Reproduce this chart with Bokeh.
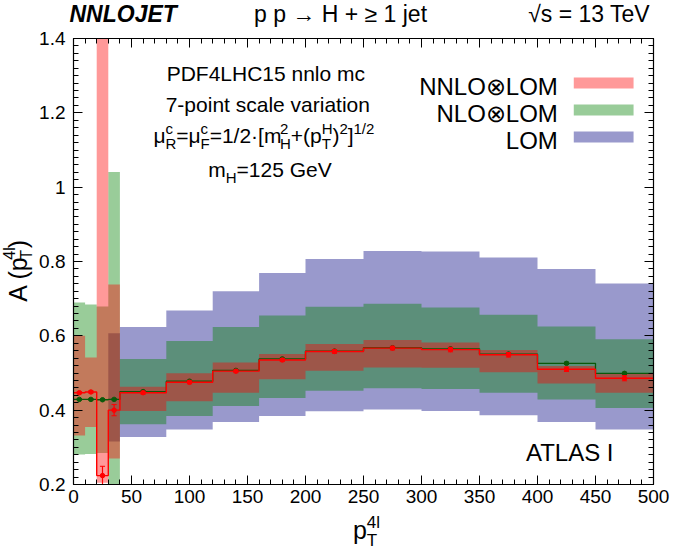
import math
from bokeh.plotting import figure
from bokeh.layouts import column, row
from bokeh.models import Range1d, FixedTicker, LinearAxis, Label, BoxAnnotation, CustomJSTickFormatter
from bokeh.embed import file_html
from bokeh.resources import INLINE

# ---------------- data ----------------
edges = [0, 10, 20, 30, 40, 80, 120, 160, 200, 250, 300, 350, 400, 450, 500]
centers = [5, 15, 25, 35, 60, 100, 140, 180, 225, 275, 325, 375, 425, 475]

nnlo_c = [0.447, 0.449, 0.224, 0.400, 0.447, 0.475, 0.505, 0.535, 0.558, 0.567, 0.563, 0.549, 0.510, 0.486]
nnlo_lo = [0.332, 0.355, 0.205, 0.270, 0.398, 0.424, 0.447, 0.483, 0.506, 0.515, 0.514, 0.502, 0.472, 0.447]
nnlo_hi = [0.600, 0.542, 1.500, 0.738, 0.463, 0.499, 0.528, 0.551, 0.578, 0.589, 0.582, 0.562, 0.519, 0.499]
nnlo_err = [0.003, 0.003, 0.025, 0.015, 0.004, 0.004, 0.004, 0.004, 0.005, 0.005, 0.006, 0.006, 0.006, 0.007]

nlo_c = [0.429, 0.429, 0.428, 0.429, 0.450, 0.478, 0.507, 0.538, 0.559, 0.568, 0.565, 0.551, 0.526, 0.499]
nlo_lo = [0.281, 0.282, 0.285, 0.180, 0.362, 0.384, 0.411, 0.433, 0.452, 0.459, 0.457, 0.447, 0.429, 0.406]
nlo_hi = [0.690, 0.684, 0.679, 1.041, 0.538, 0.586, 0.624, 0.655, 0.678, 0.686, 0.676, 0.657, 0.625, 0.591]
nlo_err = [0.002, 0.002, 0.002, 0.002, 0.002, 0.002, 0.002, 0.002, 0.002, 0.003, 0.003, 0.003, 0.003, 0.003]

lom_edges = [30, 40, 80, 120, 160, 200, 250, 300, 350, 400, 450, 500]
lom_lo = [0.316, 0.328, 0.348, 0.368, 0.384, 0.397, 0.402, 0.398, 0.386, 0.368, 0.348]
lom_hi = [0.607, 0.624, 0.668, 0.720, 0.769, 0.807, 0.828, 0.827, 0.811, 0.780, 0.741]

x_ticks = [0, 50, 100, 150, 200, 250, 300, 350, 400, 450, 500]
y_ticks = [0.2, 0.4, 0.6, 0.8, 1.0, 1.2, 1.4]
y_tick_labels = ["0.2", "0.4", "0.6", "0.8", "1", "1.2", "1.4"]

legend_labels = ["NNLO\u2297LOM", "NLO\u2297LOM", "LOM"]
info_lines = ["PDF4LHC15 nnlo mc", "7-point scale variation"]

RED, GREEN, BLUE = "#ff0000", "#008000", "#000080"
FONT = "Liberation Sans"

# ---------------- geometry (canvas pixels) ----------------
W, H = 675, 555
FL, FR, FT, FB = 71, 653, 38, 484
FW, FH = FR - FL, FB - FT
TOPPAD = 11                 # border above the frame (room for the "1.4" tick label)
TOPH = FT - TOPPAD          # height of the title strip
LSTRIP = 36                 # width of the strip holding the y title
BOTPAD = 28                 # tick-label panel below the frame
HM = FB + BOTPAD - TOPH     # height of the main figure
KB = 0.38                   # Label baseline correction (fraction of font size)


def strip(w, h, x0, x1, y_bottom, y_top):
    f = figure(width=w, height=h, x_range=Range1d(x0, x1), y_range=Range1d(y_bottom, y_top),
               output_backend="svg", toolbar_location=None, title=None,
               x_axis_type=None, y_axis_type=None, min_border=0,
               min_border_left=0, min_border_right=0, min_border_top=0, min_border_bottom=0)
    f.grid.visible = False
    f.outline_line_color = None
    f.background_fill_color = "white"
    f.border_fill_color = "white"
    return f


top = strip(W, TOPH, 0, W, TOPH, 0)
left = strip(LSTRIP, HM, 0, LSTRIP, TOPH + HM, TOPH)
bottom = strip(W, H - TOPH - HM, 0, W, H, TOPH + HM)

p = figure(width=W - LSTRIP, height=HM, x_range=Range1d(0, 500), y_range=Range1d(0.2, 1.4),
           output_backend="svg", toolbar_location=None, title=None,
           min_border_left=FL - LSTRIP, min_border_right=W - FR, min_border_top=TOPPAD,
           min_border_bottom=BOTPAD)
p.grid.visible = False
p.outline_line_color = "black"
p.background_fill_color = "white"
p.border_fill_color = "white"

xt = FixedTicker(ticks=x_ticks, minor_ticks=list(range(0, 501, 10)))
yt = FixedTicker(ticks=y_ticks, minor_ticks=[round(0.2 + 0.02 * i, 2) for i in range(61)])


def style_axis(ax):
    ax.major_tick_in = 9
    ax.major_tick_out = 0
    ax.minor_tick_in = 5
    ax.minor_tick_out = 0
    ax.axis_line_color = "black"
    ax.axis_line_width = 1.2
    ax.major_tick_line_color = "black"
    ax.minor_tick_line_color = "black"
    ax.major_label_text_font = FONT
    ax.major_label_text_font_size = "19px"
    ax.major_label_text_color = "black"


p.xaxis.ticker = xt
p.yaxis.ticker = yt
p.yaxis.major_label_overrides = {t: l for t, l in zip(y_ticks, y_tick_labels)}
style_axis(p.xaxis[0])
style_axis(p.yaxis[0])
p.xaxis.major_label_standoff = 5
p.yaxis.major_label_standoff = 8

ax_r = LinearAxis(ticker=yt, formatter=CustomJSTickFormatter(code="return ''"))
ax_t = LinearAxis(ticker=xt, formatter=CustomJSTickFormatter(code="return ''"))
for ax in (ax_r, ax_t):
    style_axis(ax)
    ax.major_label_standoff = 0
    ax.major_label_text_font_size = "0px"
p.add_layout(ax_r, "right")
p.add_layout(ax_t, "above")


def step_poly(e, lo, hi):
    xs, ys = [], []
    for i in range(len(hi)):
        xs += [e[i], e[i + 1]]
        ys += [hi[i], hi[i]]
    for i in reversed(range(len(lo))):
        xs += [e[i + 1], e[i]]
        ys += [lo[i], lo[i]]
    return xs, ys


for e, lo, hi, col in ((lom_edges, lom_lo, lom_hi, BLUE),
                       (edges, nlo_lo, nlo_hi, GREEN),
                       (edges, nnlo_lo, nnlo_hi, RED)):
    xs, ys = step_poly(e, lo, hi)
    p.patch(xs, ys, fill_color=col, fill_alpha=0.4, line_color=None)

# central values with MC errors
for vals, err, col, lw in ((nlo_c, nlo_err, "#0a5a0a", 1.3), (nnlo_c, nnlo_err, RED, 1.4)):
    p.step(x=edges, y=vals + [vals[-1]], mode="after", line_color=col, line_width=lw)
    lo_e = [v - d for v, d in zip(vals, err)]
    hi_e = [v + d for v, d in zip(vals, err)]
    p.segment(x0=centers, y0=lo_e, x1=centers, y1=hi_e, line_color=col, line_width=1.2)
    for yy in (lo_e, hi_e):
        p.segment(x0=[c - 2.2 for c in centers], y0=yy, x1=[c + 2.2 for c in centers], y1=yy,
                  line_color=col, line_width=1)
    p.scatter(x=centers, y=vals, size=4.5, fill_color=col, line_color=col)


# ---------------- text helpers ----------------
def X(px):
    return (px - FL) * 500.0 / FW


def Y(py):
    return 0.2 + (FB - py) * 1.2 / FH


AW = {' ': 0.278, 'A': 0.667, 'C': 0.722, 'D': 0.722, 'E': 0.667, 'F': 0.611, 'G': 0.778, 'H': 0.722,
      'I': 0.278, 'J': 0.5, 'L': 0.556, 'M': 0.833, 'N': 0.722, 'O': 0.778, 'P': 0.667, 'R': 0.722,
      'S': 0.667, 'T': 0.611, 'V': 0.667, 'a': 0.556, 'c': 0.5, 'e': 0.556, 'i': 0.222, 'j': 0.222,
      'l': 0.222, 'm': 0.833, 'n': 0.556, 'o': 0.556, 'p': 0.556, 'r': 0.333, 's': 0.5, 't': 0.278,
      'u': 0.556, 'v': 0.5, '.': 0.278, '-': 0.333, '=': 0.584, '+': 0.584, '/': 0.278, '(': 0.333,
      ')': 0.333, '[': 0.278, ']': 0.278, '\u00b7': 0.278, '\u03bc': 0.576}


def tw(s, fs):
    return sum(AW.get(ch, 0.556) for ch in s) * fs


def label(fig, s, px, py, fs, align="left", style="normal", angle=0.0):
    """px, py: canvas pixels of the text baseline anchor."""
    if angle:
        px = px - KB * fs
    else:
        py = py - KB * fs
    if fig is p:
        x, y = X(px), Y(py)
    else:
        x, y = px, py
    fig.add_layout(Label(x=x, y=y, text=s, text_font=FONT, text_font_size=f"{fs}px",
                         text_align=align, text_baseline="alphabetic", text_font_style=style,
                         angle=angle, text_color="black"))


def rich(fig, pieces, center, base, fs, fss, up, down, rotated=False):
    """pieces: ('n', text) | ('sup', text) | ('sub', text) | ('ss', sup, sub)
    horizontal: center = x centre, base = baseline y.  rotated: center = y centre, base = baseline x"""
    widths = []
    for pc in pieces:
        if pc[0] == 'n':
            widths.append(tw(pc[1], fs))
        elif pc[0] == 'ss':
            widths.append(max(tw(pc[1], fss), tw(pc[2], fss)))
        else:
            widths.append(tw(pc[1], fss))
    total = sum(widths)
    pos = center - total / 2.0 if not rotated else center + total / 2.0
    for pc, w in zip(pieces, widths):
        items = []
        if pc[0] == 'n':
            items.append((pc[1], fs, 0))
        elif pc[0] == 'sup':
            items.append((pc[1], fss, -up))
        elif pc[0] == 'sub':
            items.append((pc[1], fss, down))
        else:
            items += [(pc[1], fss, -up), (pc[2], fss, down)]
        for s, f, sh in items:
            if rotated:
                label(fig, s, base + sh, pos, f, angle=math.pi / 2)
            else:
                label(fig, s, pos, base + sh, f)
        pos = pos + w if not rotated else pos - w


# ---------------- texts ----------------
label(top, "NNLOJET", 69, 21.8, 23, style="bold italic")
label(top, "p p \u2192 H + \u2265 1 jet", 340, 21.8, 23, align="center")
label(top, "\u221as  = 13 TeV", 656, 21.8, 23, align="right")

label(p, info_lines[0], 264, 81, 21, align="center")
label(p, info_lines[1], 266, 112, 21, align="center")
rich(p, [('n', '\u03bc'), ('ss', 'c', 'R'), ('n', '=\u03bc'), ('ss', 'c', 'F'), ('n', '=1/2\u00b7[m'),
         ('ss', '2', 'H'), ('n', '+(p'), ('ss', 'H', 'T'), ('n', ')'), ('sup', '2'), ('n', ']'),
         ('sup', '1/2')], 262, 143, 21, 15, 9, 6)
rich(p, [('n', 'm'), ('sub', 'H'), ('n', '=125 GeV')], 268, 177, 21, 15, 9, 6)

for i, (txt, col) in enumerate(zip(legend_labels, (RED, GREEN, BLUE))):
    base = 95 + 27 * i
    label(p, txt, 557, base, 24, align="right")
    p.add_layout(BoxAnnotation(left=X(573), right=X(633), top=Y(base - 18), bottom=Y(base - 7),
                               fill_color=col, fill_alpha=0.4, line_color=None))

label(p, "ATLAS I", 525, 461, 24)

# axis titles
rich(bottom, [('n', 'p'), ('ss', '4l', 'T')], 366, 539, 25, 17, 11, 7)
rich(left, [('n', 'A (p'), ('ss', '4l', 'T'), ('n', ')')], 280, 27, 25, 16, 12, 5, rotated=True)

layout = column(top, row(left, p), bottom)
open("out.html", "w").write(file_html(layout, INLINE))
